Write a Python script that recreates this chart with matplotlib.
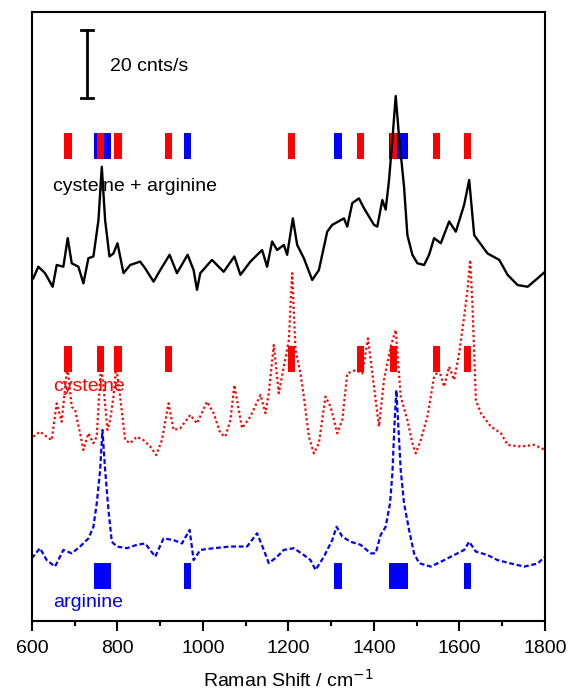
import matplotlib
matplotlib.use("Agg")
import matplotlib.pyplot as plt
from matplotlib.ticker import MultipleLocator

plt.rcParams['font.family'] = ['Liberation Sans', 'DejaVu Sans']

# ---- spectra (wavenumber / cm-1, intensity in cnts/s incl. vertical offset) ----
mix_x = [603.1, 614.8, 630.5, 648.4, 657.8, 673.4, 683.6, 693.0, 708.6, 720.3, 732.0, 743.7,
         755.5, 763.3, 771.1, 781.2, 790.6, 800.0, 814.1, 829.7, 853.1, 864.8, 884.4, 900.0,
         921.9, 939.1, 964.1, 978.1, 986.0, 993.7, 1021.1, 1048.4, 1073.4, 1087.5, 1110.9,
         1138.3, 1150.0, 1161.7, 1173.4, 1189.1, 1196.9, 1210.2, 1220.3, 1235.9, 1255.5,
         1271.1, 1290.6, 1302.3, 1329.7, 1337.5, 1349.2, 1364.8, 1376.6, 1400.0, 1407.8,
         1419.5, 1427.3, 1435.2, 1443.0, 1450.8, 1458.6, 1470.3, 1478.1, 1489.8, 1501.6,
         1517.2, 1528.9, 1540.6, 1556.3, 1575.8, 1591.4, 1610.9, 1622.7, 1634.4, 1642.2,
         1665.6, 1693.0, 1712.5, 1736.0, 1759.4, 1782.8, 1800.0]
mix_y = [100.8, 104.2, 102.3, 98.3, 104.7, 104.2, 112.6, 105.2, 104.2, 99.3, 106.7, 107.2,
         117.9, 133.6, 117.9, 107.2, 108.1, 111.1, 102.3, 104.7, 105.7, 103.7, 99.8, 103.2,
         107.7, 102.3, 107.7, 103.2, 97.4, 102.3, 106.2, 102.7, 107.2, 101.8, 105.7,
         109.1, 104.2, 111.6, 109.1, 110.6, 107.7, 118.4, 110.6, 106.7, 100.3,
         103.2, 114.5, 116.5, 118.4, 116.0, 122.9, 124.3, 121.4, 116.5, 116.0,
         123.8, 121.0, 129.7, 141.5, 154.4, 142.4, 127.7, 113.5, 107.7, 105.2,
         104.7, 107.7, 112.6, 111.1, 117.5, 114.5, 122.4, 129.7, 113.5, 112.1,
         108.1, 106.2, 101.8, 98.8, 98.3, 100.8, 102.7]

cys_x = [603.1, 618.7, 634.4, 646.1, 657.8, 669.5, 682.8, 693.0, 700.8, 712.5, 720.3, 732.0,
         743.7, 751.5, 755.5, 761.7, 768.7, 776.6, 782.8, 790.6, 796.9, 806.2, 818.0, 829.7,
         845.3, 860.9, 876.6, 890.6, 903.9, 911.7, 919.5, 931.2, 946.9, 970.3, 985.9, 1009.4,
         1025.0, 1040.6, 1052.3, 1064.1, 1073.4, 1083.6, 1091.4, 1110.9, 1134.4, 1146.1,
         1153.9, 1165.6, 1177.3, 1189.1, 1200.8, 1208.6, 1216.4, 1228.1, 1235.9, 1247.7,
         1259.4, 1271.1, 1286.7, 1298.4, 1314.1, 1325.8, 1337.5, 1357.0, 1372.7, 1386.0,
         1396.1, 1411.7, 1423.4, 1439.1, 1450.8, 1462.5, 1478.1, 1489.8, 1497.7, 1509.4,
         1525.0, 1540.6, 1552.3, 1564.1, 1575.8, 1587.5, 1599.2, 1610.9, 1618.8, 1625.0,
         1630.5, 1638.3, 1650.0, 1673.4, 1696.9, 1712.5, 1743.7, 1775.0, 1800.0]
cys_y = [54.2, 55.7, 54.2, 53.2, 64.0, 58.6, 75.0, 63.0, 62.1, 55.2, 50.3, 55.2,
         52.3, 54.2, 63.0, 75.8, 67.0, 56.2, 59.1, 66.0, 74.8, 66.0, 53.2, 52.3,
         54.2, 53.2, 51.3, 48.8, 53.2, 58.6, 64.0, 56.2, 56.7, 60.6, 58.1, 64.5,
         61.1, 55.2, 54.2, 59.1, 69.4, 62.1, 56.7, 60.1, 66.5, 61.1,
         67.0, 81.2, 67.0, 74.8, 82.6, 102.3, 79.7, 72.8, 66.0, 54.2,
         49.3, 52.3, 66.0, 63.0, 55.2, 59.1, 72.8, 73.8, 72.8, 83.1,
         72.8, 57.2, 70.9, 80.7, 85.6, 66.0, 59.1, 52.3, 49.3, 53.2,
         60.1, 71.9, 73.8, 68.9, 74.8, 70.9, 78.7, 89.5, 97.4, 106.2,
         92.5, 65.0, 61.1, 57.2, 55.2, 51.8, 51.3, 51.8, 50.3]

arg_x = [599.2, 618.7, 634.4, 653.9, 673.4, 693.0, 712.5, 732.0, 743.7, 751.5, 759.4, 764.8,
         771.1, 778.9, 786.7, 798.4, 821.9, 845.3, 864.8, 888.3, 907.8, 931.2, 950.8, 968.7,
         978.1, 993.7, 1025.0, 1064.1, 1103.1, 1126.6, 1142.2, 1153.9, 1173.4, 1189.1,
         1212.5, 1235.9, 1251.6, 1263.3, 1282.8, 1302.3, 1312.5, 1325.8, 1345.3, 1368.7,
         1392.2, 1403.9, 1415.6, 1427.3, 1437.5, 1443.0, 1448.4, 1452.3, 1462.5, 1470.3,
         1482.0, 1493.7, 1505.5, 1532.8, 1564.1, 1587.5, 1610.9, 1622.7, 1638.3, 1665.6,
         1689.1, 1720.3, 1751.6, 1782.8, 1800.0]
arg_y = [18.4, 21.4, 17.9, 16.0, 20.9, 19.9, 21.9, 24.3, 27.7, 34.6, 44.4, 56.2,
         44.4, 32.6, 23.3, 21.9, 21.4, 22.4, 22.8, 18.9, 24.3, 23.8, 22.8, 26.8,
         17.9, 20.9, 21.4, 21.9, 21.9, 25.8, 20.9, 17.0, 18.9, 20.9,
         21.4, 19.4, 17.9, 15.0, 18.9, 23.8, 27.7, 24.8, 23.3, 22.4,
         19.9, 19.9, 25.3, 27.7, 34.6, 43.4, 59.1, 67.9, 44.4, 34.6,
         26.8, 19.9, 17.0, 16.0, 17.9, 19.4, 20.9, 23.3, 20.4, 19.4,
         17.9, 16.9, 16.0, 16.9, 18.9]

# ---- band assignments (centre, width in cm-1) ----
cys_band_pos = [684, 760, 801, 919, 1207, 1368, 1446, 1547, 1619]
cys_band_wid = [17, 17, 17, 17, 17, 17, 17, 17, 17]
arg_band_pos = [765.5, 963, 1316, 1457, 1619]
arg_band_wid = [39, 17, 17, 46, 17]

# band rows (bottom, height) in cnts/s
row_mix = (135.9, 7.6)
row_cys = (73.1, 7.8)
row_arg = (9.3, 7.8)

RED = '#ff0000'
BLUE = '#0000ff'

fig = plt.figure(figsize=(5.68, 6.95), dpi=100)
ax = fig.add_axes([0.0563, 0.1065, 0.9032, 0.8762])

ax.plot(mix_x, mix_y, color='black', lw=1.7, solid_joinstyle='round')
ax.plot(cys_x, cys_y, color=RED, lw=1.6, linestyle=(0, (1, 1.2)))
ax.plot(arg_x, arg_y, color=BLUE, lw=1.6, linestyle=(0, (2.2, 1.2)))

# bands: combined row (blue below red), cysteine row, arginine row
ax.bar(arg_band_pos, row_mix[1], width=arg_band_wid, bottom=row_mix[0], color=BLUE, lw=0)
ax.bar(cys_band_pos, row_mix[1], width=cys_band_wid, bottom=row_mix[0], color=RED, lw=0)
ax.bar(cys_band_pos, row_cys[1], width=cys_band_wid, bottom=row_cys[0], color=RED, lw=0)
ax.bar(arg_band_pos, row_arg[1], width=arg_band_wid, bottom=row_arg[0], color=BLUE, lw=0)

# scale bar: 20 cnts/s
sb_x, sb_y0, sb_len, sb_cap = 729, 153.8, 20, 14
ax.plot([sb_x, sb_x], [sb_y0, sb_y0 + sb_len], color='black', lw=2)
ax.plot([sb_x - sb_cap, sb_x + sb_cap], [sb_y0, sb_y0], color='black', lw=2)
ax.plot([sb_x - sb_cap, sb_x + sb_cap], [sb_y0 + sb_len, sb_y0 + sb_len], color='black', lw=2)
ax.text(783, 163.2, '20 cnts/s', fontsize=14, va='center', ha='left')

ax.text(649, 127.9, 'cysteine + arginine', fontsize=14, va='center', ha='left')
ax.text(649, 69.1, 'cysteine', fontsize=14, va='center', ha='left', color=RED)
ax.text(649, 5.3, 'arginine', fontsize=14, va='center', ha='left', color=BLUE)

ax.set_xlim(600, 1800)
ax.set_ylim(0, 179.1)
ax.set_yticks([])
ax.xaxis.set_major_locator(MultipleLocator(200))
ax.xaxis.set_minor_locator(MultipleLocator(100))
ax.tick_params(axis='x', which='major', direction='out', length=7, width=1.5,
               labelsize=14, pad=7)
ax.tick_params(axis='x', which='minor', direction='out', length=3.8, width=1.5)
for s in ax.spines.values():
    s.set_linewidth(1.5)
ax.set_xlabel('Raman Shift / cm$^{-1}$', fontsize=14, labelpad=8)

fig.savefig('out.png', dpi=100)
